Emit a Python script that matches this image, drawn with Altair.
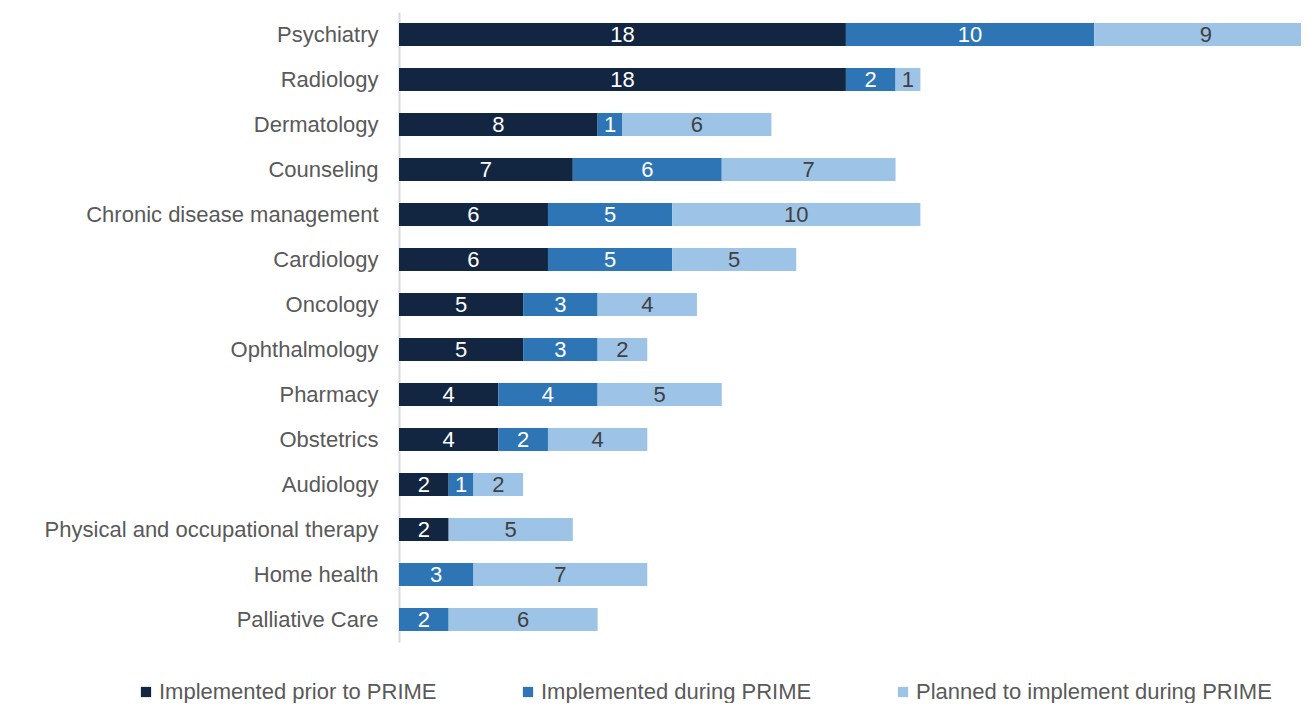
import altair as alt
import pandas as pd

categories = ["Psychiatry", "Radiology", "Dermatology", "Counseling",
              "Chronic disease management", "Cardiology", "Oncology",
              "Ophthalmology", "Pharmacy", "Obstetrics", "Audiology",
              "Physical and occupational therapy", "Home health", "Palliative Care"]
prior = [18, 18, 8, 7, 6, 6, 5, 5, 4, 4, 2, 2, 0, 0]
during = [10, 2, 1, 6, 5, 5, 3, 3, 4, 2, 1, 0, 3, 2]
planned = [9, 1, 6, 7, 10, 5, 4, 2, 5, 4, 2, 5, 7, 6]
series = ["Implemented prior to PRIME", "Implemented during PRIME",
          "Planned to implement during PRIME"]
colors = ["#132641", "#2E75B6", "#9DC3E6"]

rows = []
for i, cat in enumerate(categories):
    start = 0
    for s, vals in zip(series, [prior, during, planned]):
        v = vals[i]
        if v > 0:
            rows.append({"category": cat, "series": s, "value": v,
                         "start": start, "end": start + v,
                         "mid": start + v / 2, "order": series.index(s)})
        start += v
df = pd.DataFrame(rows)

FONT = "Liberation Sans"
xscale = alt.Scale(domain=[0, 36.33], nice=False, zero=True)
yenc = alt.Y("category:N", sort=categories, title=None,
             scale=alt.Scale(paddingInner=0.49, paddingOuter=0.245),
             axis=alt.Axis(labelFontSize=22, labelColor="#595959", labelFont=FONT,
                           labelPadding=21, ticks=False, domainColor="#d9d9d9",
                           domainWidth=2, labelLimit=600))

bars = alt.Chart(df).mark_bar(clip=True).encode(
    x=alt.X("start:Q", scale=xscale, axis=None),
    x2="end:Q",
    y=yenc,
    color=alt.Color("series:N", scale=alt.Scale(domain=series, range=colors),
                    sort=series,
                    legend=alt.Legend(title=None, orient="none", direction="horizontal",
                                      legendX=-264, legendY=669,
                                      symbolType="square", symbolSize=105,
                                      symbolStrokeWidth=0,
                                      labelFontSize=22, labelFont=FONT,
                                      labelColor="#595959", columnPadding=80,
                                      labelLimit=600, symbolOffset=0, labelOffset=2)),
    order="order:Q",
)

labels = alt.Chart(df).mark_text(fontSize=22, font=FONT, baseline="middle").encode(
    x=alt.X("mid:Q", scale=xscale),
    y=alt.Y("category:N", sort=categories),
    text="value:Q",
    color=alt.condition(alt.datum.series == series[2], alt.value("#404040"), alt.value("#ffffff")),
)

chart = alt.layer(bars, labels).properties(
    width=902, height=630,
    padding={"left": 36, "top": 4, "right": 0, "bottom": 0},
).configure_view(stroke=None)

chart.save("out.html", embed_options={"renderer": "svg", "actions": False})
